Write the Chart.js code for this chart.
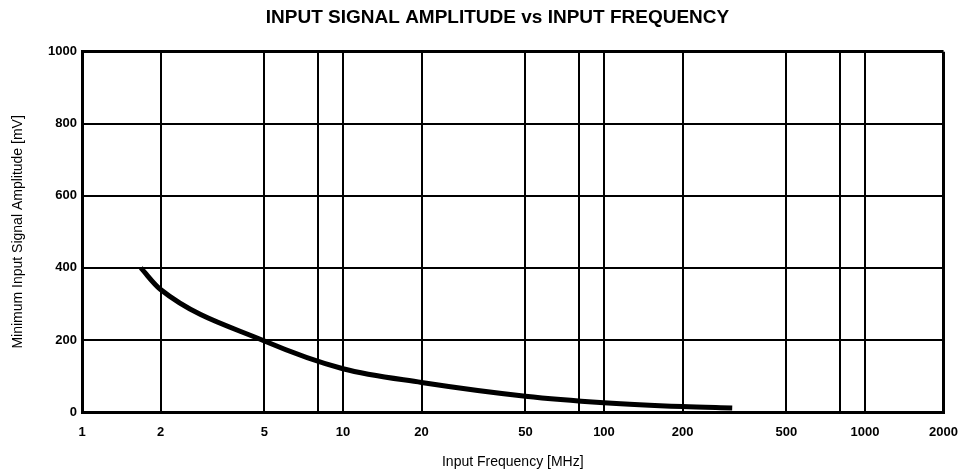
<!DOCTYPE html>
<html><head><meta charset="utf-8">
<script src="https://cdn.jsdelivr.net/npm/chart.js@4.4.0/dist/chart.umd.min.js"></script>
<style>html,body{margin:0;padding:0;background:#fff}</style>
</head><body>
<canvas id="c" width="971" height="475"></canvas>
<script>
// Data
const frequencyMHz = [1.68, 2, 5, 10, 20, 50, 100, 200, 310];
const amplitudeMV = [400, 340, 197, 120, 82, 44, 26, 15, 11];
const xTickLabels = [1, 2, 5, 10, 20, 50, 100, 200, 500, 1000, 2000];
const xGridOnly = [8, 80, 800];
const yTicks = [0, 200, 400, 600, 800, 1000];

const FONT = "'Liberation Sans', Arial, Helvetica, sans-serif";
const xGridValues = xTickLabels.concat(xGridOnly).sort((a, b) => a - b);

const titleShift = {
  id: 'titleShift',
  afterLayout(chart) {
    const t = chart.titleBlock;
    if (t) { t.left = 24; t.right = 971; }
  }
};

new Chart(document.getElementById('c'), {
  type: 'line',
  data: {
    datasets: [{
      data: frequencyMHz.map((f, i) => ({ x: f, y: amplitudeMV[i] })),
      borderColor: '#000',
      borderWidth: 5,
      pointRadius: 0,
      fill: false,
      cubicInterpolationMode: 'monotone',
      borderCapStyle: 'butt'
    }]
  },
  options: {
    responsive: false,
    animation: false,
    layout: { padding: { left: 0, right: 26, top: 0, bottom: 0 } },
    plugins: {
      legend: { display: false },
      tooltip: { enabled: false },
      title: {
        display: true,
        text: 'INPUT SIGNAL AMPLITUDE vs INPUT FREQUENCY',
        color: '#000',
        font: { family: FONT, size: 19, weight: 'bold' },
        padding: { top: 6, bottom: 23 }
      }
    },
    scales: {
      x: {
        type: 'logarithmic',
        min: 1,
        max: 2000,
        afterBuildTicks: s => { s.ticks = xGridValues.map(v => ({ value: v })); },
        afterFit: s => { s.height = 63; },
        grid: {
          color: '#000',
          lineWidth: c => (c.tick && c.tick.value === 2000) ? 3 : 2,
          drawTicks: false
        },
        border: { display: true, color: '#000', width: 3 },
        ticks: {
          autoSkip: false,
          maxRotation: 0,
          padding: 13,
          color: '#000',
          font: { family: FONT, size: 13, weight: 'bold' },
          callback: v => xTickLabels.includes(v) ? String(v) : ''
        },
        title: {
          display: true,
          text: 'Input Frequency [MHz]',
          color: '#000',
          font: { family: FONT, size: 14 },
          padding: { top: 0, bottom: 4 }
        }
      },
      y: {
        min: 0,
        max: 1000,
        afterBuildTicks: s => { s.ticks = yTicks.map(v => ({ value: v })); },
        afterFit: s => { s.width = 82; },
        grid: {
          color: '#000',
          lineWidth: c => (c.tick && c.tick.value === 1000) ? 3 : 2,
          drawTicks: false
        },
        border: { display: true, color: '#000', width: 3 },
        ticks: {
          padding: 5,
          color: '#000',
          font: { family: FONT, size: 13, weight: 'bold' },
          callback: v => String(v)
        },
        title: {
          display: true,
          text: 'Minimum Input Signal Amplitude [mV]',
          color: '#000',
          font: { family: FONT, size: 14 },
          padding: { top: 10, bottom: 0 }
        }
      }
    }
  },
  plugins: [titleShift]
});
</script>
</body></html>
